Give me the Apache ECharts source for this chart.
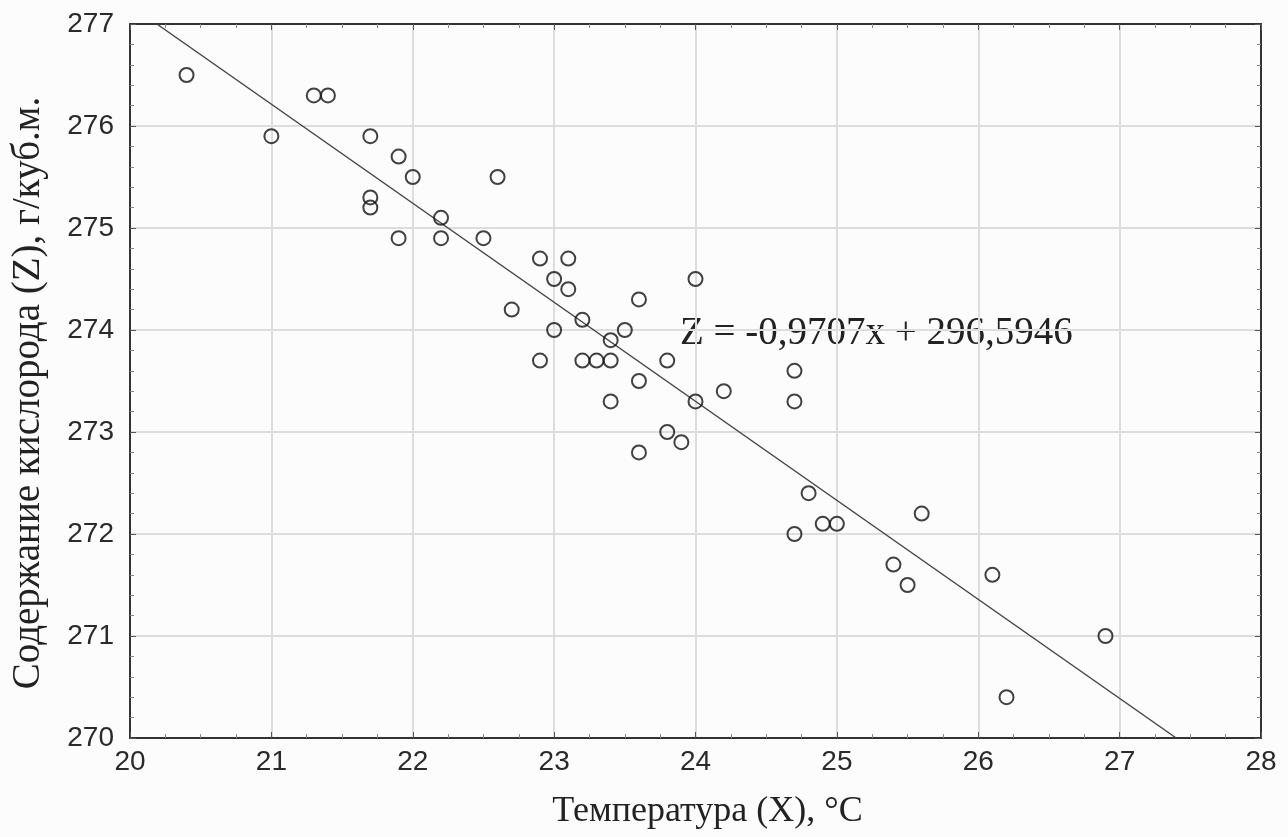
<!DOCTYPE html>
<html><head><meta charset="utf-8">
<script src="https://cdn.jsdelivr.net/npm/echarts@6/dist/echarts.min.js"></script>
<style>html,body{margin:0;padding:0;background:#fcfcfc}#c{width:1288px;height:837px}</style>
</head><body><div id="c"></div>
<script>
const tempX = [20.4,21.3,21.4,21.0,21.7,21.9,22.0,22.6,21.7,21.7,22.2,21.9,22.2,22.5,22.9,23.1,23.0,23.1,
  24.0,23.6,22.7,23.2,23.0,23.5,23.4,22.9,23.2,23.3,23.4,23.8,23.6,23.4,24.0,24.2,23.8,23.9,23.6,
  24.7,24.7,24.8,24.7,24.9,25.0,25.6,25.4,25.5,26.1,26.9,26.2];
const oxygenZ = [276.5,276.3,276.3,275.9,275.9,275.7,275.5,275.5,275.3,275.2,275.1,274.9,274.9,274.9,274.7,274.7,274.5,274.4,
  274.5,274.3,274.2,274.1,274.0,274.0,273.9,273.7,273.7,273.7,273.7,273.7,273.5,273.3,273.3,273.4,273.0,272.9,272.8,
  273.6,273.3,272.4,272.0,272.1,272.1,272.2,271.7,271.5,271.6,271.0,270.4];
const fitLine = [[20.19,277],[27.40,270]];
const xTicks = [20,28,1];
const yTicks = [270,277,1];
const equation = 'Z = -0,9707x + 296,5946';

const chart = echarts.init(document.getElementById('c'));
const lab = {fontFamily:'Liberation Sans',fontSize:28,color:'#2a2a2a'};
const axisBase = {
  axisLine:{show:true,onZero:false,lineStyle:{color:'#333',width:2}},
  axisTick:{show:true,inside:true,length:6,lineStyle:{color:'#555'}},
};
const mx = {minorTick:{show:true,splitNumber:4,length:4,lineStyle:{color:'#888'}}};
const my = {minorTick:{show:true,splitNumber:5,length:4,lineStyle:{color:'#888'}}};
chart.setOption({
  backgroundColor:'#fcfcfc',
  animation:false,
  grid:{left:130,right:27,top:24,bottom:99},
  xAxis:[
    Object.assign({type:'value',min:xTicks[0],max:xTicks[1],interval:xTicks[2],
      name:'Температура (X), °C',nameLocation:'middle',nameGap:56,
      nameTextStyle:{fontFamily:'Liberation Serif',fontSize:36,color:'#222',padding:[0,0,0,24]},
      axisLabel:Object.assign({margin:10},lab),
      splitLine:{show:true,lineStyle:{color:'#ddd',width:2}}},axisBase,mx),
    Object.assign({type:'value',position:'top',min:xTicks[0],max:xTicks[1],interval:xTicks[2],
      axisLabel:{show:false},splitLine:{show:false}},axisBase,mx)
  ],
  yAxis:[
    Object.assign({type:'value',min:yTicks[0],max:yTicks[1],interval:yTicks[2],
      name:'Содержание кислорода (Z), г/куб.м.',nameLocation:'middle',nameGap:82,
      nameTextStyle:{fontFamily:'Liberation Serif',fontSize:39,color:'#222',padding:[0,24,0,0]},
      axisLabel:Object.assign({margin:16},lab),
      splitLine:{show:true,lineStyle:{color:'#ddd',width:2}}},axisBase,my),
    Object.assign({type:'value',position:'right',min:yTicks[0],max:yTicks[1],interval:yTicks[2],
      axisLabel:{show:false},splitLine:{show:false}},axisBase,my)
  ],
  series:[
    {type:'line',data:fitLine,symbol:'none',lineStyle:{color:'#444',width:1.5},z:2,silent:true},
    {type:'scatter',data:tempX.map((x,i)=>[x,oxygenZ[i]]),symbol:'circle',symbolSize:14,
      itemStyle:{color:'rgba(255,255,255,0)',borderColor:'#111',borderWidth:2},z:3}
  ],
  graphic:[{type:'text',x:680,y:334,style:{text:equation,font:'39px "Liberation Serif"',fill:'#222',verticalAlign:'middle'}}]
});
</script></body></html>
